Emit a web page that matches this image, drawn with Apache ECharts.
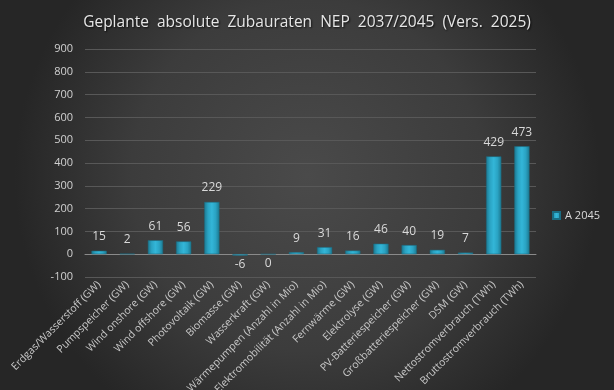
<!DOCTYPE html>
<html><head><meta charset="utf-8">
<script src="https://cdn.jsdelivr.net/npm/echarts@6/dist/echarts.min.js"></script>
<style>html,body{margin:0;padding:0;background:#333;}#c{width:614px;height:390px;}</style>
</head><body><div id="c"></div>
<script>
const categories = ["Erdgas/Wasserstoff (GW)","Pumpspeicher (GW)","Wind onshore (GW)","Wind offshore (GW)","Photovoltaik (GW)","Biomasse (GW)","Wasserkraft (GW)","Wärmepumpen (Anzahl in Mio)","Elektromobilität (Anzahl in Mio)","Fernwärme (GW)","Elektrolyse (GW)","PV-Batteriespeicher (GW)","Großbatteriespeicher (GW)","DSM (GW)","Nettostromverbrauch (TWh)","Bruttostromverbrauch (TWh)"];
const values2045 = [15, 2, 61, 56, 229, -6, 0, 9, 31, 16, 46, 40, 19, 7, 429, 473];
const belowLabels = [5, 6];
const seriesName = "A 2045";
const titleText = "Geplante  absolute  Zubauraten  NEP  2037/2045  (Vers.  2025)";

const chart = echarts.init(document.getElementById('c'), null, {renderer:'canvas'});
const barColor = {type:'linear',x:0,y:0,x2:1,y2:0,colorStops:[
  {offset:0,color:'#1c7890'},{offset:0.25,color:'#2aa3c3'},{offset:0.5,color:'#33b6d8'},{offset:0.75,color:'#2aa3c3'},{offset:1,color:'#1c7890'}]};
const data = values2045.map((v,i)=> belowLabels.includes(i)
  ? {value:v, label:{position:'bottom', distance:3}}
  : {value:v});
chart.setOption({
  backgroundColor:{type:'radial',x:0.5,y:0.45,r:0.75,colorStops:[
    {offset:0,color:'#4a4a4a'},{offset:0.6,color:'#3c3c3c'},{offset:1,color:'#262626'}]},
  textStyle:{fontFamily:'Open Sans'},
  title:{text:titleText,left:'center',top:10,textStyle:{color:'#e6e6e6',fontSize:15.5,fontWeight:'normal',fontFamily:'Open Sans',
    textShadowColor:'rgba(0,0,0,0.8)',textShadowBlur:2,textShadowOffsetX:1,textShadowOffsetY:1}},
  legend:{data:[seriesName],right:9,top:205,orient:'vertical',itemWidth:7,itemHeight:7,icon:'rect',itemGap:4,
    textStyle:{color:'#d9d9d9',fontSize:11}},
  grid:{left:85,right:78,top:49,bottom:113,containLabel:false,outerBoundsMode:'none'},
  xAxis:{type:'category',data:categories,
    axisLine:{onZero:true,lineStyle:{color:'#8a8a8a',width:1}},
    axisTick:{show:false},
    axisLabel:{interval:0,rotate:45,color:'#c8c8c8',fontSize:10.5,margin:6}},
  yAxis:{type:'value',min:-100,max:900,interval:100,
    axisLine:{show:false},axisTick:{show:false},
    splitLine:{lineStyle:{color:'#585858',width:1}},
    axisLabel:{color:'#d0d0d0',fontSize:11,margin:12}},
  series:[{name:seriesName,type:'bar',data:data,barWidth:'54%',
    itemStyle:{color:barColor,borderColor:'#1a6c82',borderWidth:0.5},
    label:{show:true,position:'top',distance:8,color:'#d9d9d9',fontSize:12}}]
});
</script></body></html>
